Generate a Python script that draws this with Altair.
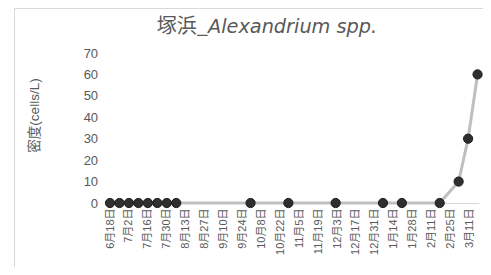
import altair as alt
import pandas as pd

# sampling dates and densities (cells/L)
dates = ["2018-06-18", "2018-06-25", "2018-07-02", "2018-07-09", "2018-07-16",
         "2018-07-23", "2018-07-30", "2018-08-06", "2018-09-30", "2018-10-28",
         "2018-12-02", "2019-01-06", "2019-01-20", "2019-02-17", "2019-03-03",
         "2019-03-10", "2019-03-17"]
density = [0, 0, 0, 0, 0, 0, 0, 0, 0, 0, 0, 0, 0, 0, 10, 30, 60]

# x tick label dates (every 14 days)
tick_dates = ["2018-06-18", "2018-07-02", "2018-07-16", "2018-07-30", "2018-08-13",
              "2018-08-27", "2018-09-10", "2018-09-24", "2018-10-08", "2018-10-22",
              "2018-11-05", "2018-11-19", "2018-12-03", "2018-12-17", "2018-12-31",
              "2019-01-14", "2019-01-28", "2019-02-11", "2019-02-25", "2019-03-11"]
y_ticks = [0, 10, 20, 30, 40, 50, 60, 70]
x_domain = ["2018-06-14", "2019-03-18"]

title_parts = ["塚浜_", "Alexandrium spp."]
y_title = "密度(cells/L)"

GREY = "#595959"
PAD_LEFT = 96.6
PLOT_W = 374.3


def dt(s):
    y, m, d = (int(v) for v in s.split("-"))
    return alt.DateTime(year=y, month=m, date=d, utc=True)


df = pd.DataFrame({"date": dates, "density": density})

x_enc = alt.X(
    "date:T",
    scale=alt.Scale(type="utc", domain=[dt(s) for s in x_domain], nice=False),
    axis=alt.Axis(
        values=[dt(s) for s in tick_dates],
        format="%-m月%-d日",
        labelAngle=270,
        labelFontSize=11,
        labelColor=GREY,
        labelFont="Liberation Sans, Noto Sans CJK JP",
        labelPadding=5,
        labelOverlap=False,
        labelFlush=False,
        ticks=False,
        tickSize=0,
        grid=False,
        domainColor="#d9d9d9",
        domainWidth=1,
        title=None,
    ),
)
y_enc = alt.Y(
    "density:Q",
    scale=alt.Scale(domain=[0, 70], nice=False, zero=True),
    axis=alt.Axis(
        values=y_ticks,
        labelFontSize=13,
        labelColor=GREY,
        labelFont="Liberation Sans",
        labelPadding=7,
        labelOverlap=False,
        ticks=False,
        tickSize=0,
        grid=False,
        domain=False,
        title=y_title,
        titleFont="Liberation Sans, Noto Sans CJK JP",
        titleFontSize=13.5,
        titleFontWeight="normal",
        titleColor=GREY,
        titleAngle=270,
        titleAlign="center",
        titleBaseline="middle",
        titleX=-70,
        titleY=62,
    ),
)

base = alt.Chart(df)
line = base.mark_line(color="#bfbfbf", strokeWidth=3).encode(x=x_enc, y=y_enc)
points = base.mark_circle(size=85, color="#2f2f2f", opacity=1,
                          stroke="#1c1c1c", strokeWidth=1).encode(x=x_enc, y=y_enc)

one = pd.DataFrame({"a": [0]})
border = alt.Chart(one).mark_rect(fillOpacity=0, stroke="#d9d9d9", strokeWidth=1).encode(
    x=alt.value(14.5 - 8 - PAD_LEFT), x2=alt.value(600), y=alt.value(-44.5), y2=alt.value(400)
)
split_x = 208 - 8 - PAD_LEFT
title_a = alt.Chart(pd.DataFrame({"t": [title_parts[0]]})).mark_text(
    align="right", baseline="alphabetic", font="Noto Sans CJK JP",
    fontSize=20, color=GREY
).encode(x=alt.value(split_x), y=alt.value(-20), text="t:N")
title_b = alt.Chart(pd.DataFrame({"t": [title_parts[1]]})).mark_text(
    align="left", baseline="alphabetic", font="DejaVu Sans", fontStyle="italic",
    fontSize=19.3, color=GREY
).encode(x=alt.value(split_x), y=alt.value(-20), text="t:N")

chart = alt.layer(border, line, points, title_a, title_b).properties(
    width=PLOT_W,
    height=150,
    autosize=alt.AutoSizeParams(type="none"),
    padding={"left": PAD_LEFT, "top": 45, "right": 475 - PAD_LEFT - PLOT_W, "bottom": 64},
).configure_view(stroke=None).configure_axis(labelOverlap=False)

chart.save("out.html", embed_options={"renderer": "svg", "actions": False})
